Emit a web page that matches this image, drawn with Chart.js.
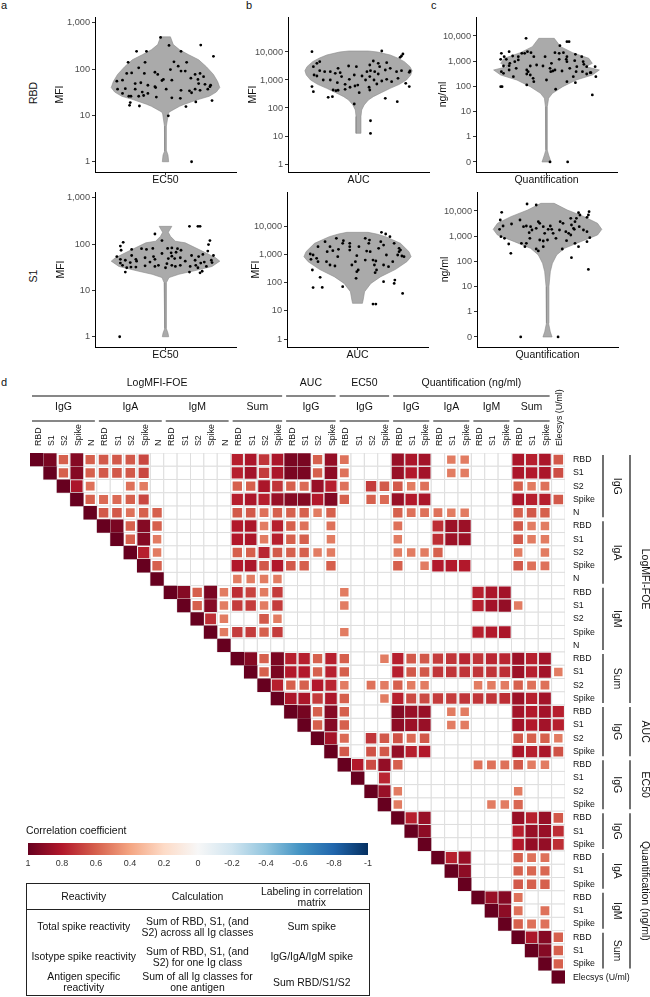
<!DOCTYPE html>
<html><head><meta charset="utf-8">
<script src="https://cdn.jsdelivr.net/npm/chart.js@4.4.1/dist/chart.umd.min.js"></script>
<style>
body{margin:0;width:650px;height:997px;position:relative;background:#fff;font-family:"Liberation Sans",Arial,sans-serif;color:#111;overflow:hidden}
canvas{position:absolute}
.t{position:absolute;white-space:nowrap;line-height:1}
.rot{position:absolute;white-space:nowrap;line-height:1;transform:translate(-50%,-50%) rotate(-90deg);font-size:10.5px}
#tbl{position:absolute;left:26px;top:883px;width:343px;height:112px;border-collapse:collapse;border:1.5px solid #222;table-layout:fixed;font-size:10.4px;line-height:11px;text-align:center}
#tbl td{padding:0;vertical-align:middle}
#tbl tr.hd td{border-bottom:1px solid #222}
</style></head><body>
<div class="t" style="left:1px;top:0px;font-size:11px">a</div>
<div class="t" style="left:246px;top:0px;font-size:11px">b</div>
<div class="t" style="left:431px;top:0px;font-size:11px">c</div>
<div class="t" style="left:1px;top:377px;font-size:11px">d</div>
<div class="rot" style="left:33px;top:93px">RBD</div>
<div class="rot" style="left:33px;top:276px">S1</div>

<canvas id="va1" width="200" height="188" style="left:40px;top:0px"></canvas>
<canvas id="vb1" width="200" height="188" style="left:233px;top:0px"></canvas>
<canvas id="vc1" width="200" height="188" style="left:421px;top:0px"></canvas>
<canvas id="va2" width="200" height="188" style="left:40px;top:175px"></canvas>
<canvas id="vb2" width="200" height="188" style="left:232px;top:175px"></canvas>
<canvas id="vc2" width="200" height="188" style="left:422px;top:175px"></canvas>

<canvas id="hm" width="650" height="637" style="left:0px;top:360px"></canvas>

<div class="t" style="left:26px;top:826px;font-size:10.4px">Correlation coefficient</div>
<canvas id="cb" width="380" height="40" style="left:0px;top:836px"></canvas>

<table id="tbl">
<colgroup><col style="width:114px"><col style="width:114px"><col style="width:115px"></colgroup>
<tr class="hd" style="height:26px"><td>Reactivity</td><td>Calculation</td><td>Labeling in correlation<br>matrix</td></tr>
<tr style="height:34px"><td>Total spike reactivity</td><td>Sum of RBD, S1, (and<br>S2) across all Ig classes</td><td>Sum spike</td></tr>
<tr style="height:26px"><td>Isotype spike reactivity</td><td>Sum of RBD, S1, (and<br>S2) for one Ig class</td><td>IgG/IgA/IgM spike</td></tr>
<tr style="height:26px"><td>Antigen specific<br>reactivity</td><td>Sum of all Ig classes for<br>one antigen</td><td>Sum RBD/S1/S2</td></tr>
</table>

<script>
// ---------------- DATA ----------------
const ticksEC50 = [1, 10, 100, 1000];
const ticksAUC = [1, 10, 100, 1000, 10000];
const ticksQuant = [0.1, 1, 10, 100, 1000, 10000];

// Panel a, RBD, EC50 (MFI)
const a1ViolinVal = [1, 1.4, 1.7, 3, 5.9, 10.7, 11.8, 15.8, 17.5, 22, 26, 32, 40, 54, 77, 113, 160, 205, 263, 340, 500];
const a1ViolinHalf = [.045, .035, .015, .01, .015, .04, .05, .2, .27, .46, .62, .72, .77, .74, .68, .58, .47, .33, .2, .11, .07];
const a1Jitter = [-0.07,0.05,0.50,0.22,-0.41,-0.27,0.68,-0.53,-0.29,0.12,0.30,0.18,0.22,0.07,-0.38,-0.55,-0.48,-0.30,-0.15,-0.11,-0.03,0.09,0.28,0.36,0.42,0.49,0.54,0.46,-0.69,-0.61,-0.43,-0.35,-0.25,-0.15,-0.05,0.47,0.56,0.64,0.63,-0.68,-0.57,-0.43,-0.33,-0.25,-0.14,0.01,0.22,0.34,0.42,0.49,0.60,-0.61,-0.52,-0.49,-0.38,-0.31,-0.13,0.09,0.21,0.37,0.66,-0.50,-0.51,-0.37,0.04,0.43,0.29,0.37];
const a1Val = [485,327,332,243,243,243,190,141,141,144,141,116,91,98,107,81,83,81,86,77,60,58,91,64,77,81,69,60,55,58,49,51,45,42,57,49,47,45,42,37,38,37,32,30,40,37,35,34,37,35,37,30,26,26,26,27,25,24,23.5,31,21,19,16.6,16,9.8,19.6,15.6,1.0];

// Panel a, S1, EC50 (MFI)
const a2ViolinVal = [1, 1.2, 1.5, 3, 8, 14.8, 19, 22.4, 26, 33, 43, 51, 71, 107, 116, 148, 181, 243];
const a2ViolinHalf = [.045, .035, .012, .01, .01, .02, .05, .19, .38, .66, .77, .71, .52, .28, .14, .07, .04, .09];
const a2Jitter = [0.34,0.46,0.49,-0.15,-0.05,0.63,-0.6,-0.64,-0.63,-0.48,-0.34,-0.27,-0.18,0.09,0.17,0.03,0.22,0.61,0.60,0.08,0.09,0.15,-0.69,-0.64,-0.57,-0.48,-0.42,-0.29,-0.17,-0.05,0.04,0.13,0.21,0.37,0.47,0.53,0.68,-0.41,-0.22,-0.15,0.02,0.28,0.42,0.55,0.65,-0.64,-0.61,-0.5,-0.29,-0.1,0.09,0.21,0.43,0.5,0.58,0.66,-0.55,-0.57,-0.49,-0.42,-0.15,0,0.14,0.35,0.46,0.52,0.34,0.49,-0.65];
const a2Val = [243,243,243,166,120,120,110,91,74,77,80,77,81,83,80,81,74,98,71,65,55,67,54,47,45,57,47,51,54,63,49,49,51,57,54,60,57,43,41,47,38,43,45,41,45,39,35,40,34,35,35,35,35,39,33,40,31,25,32,32,33,31,33,33,31,26,25,24,1.0];

// Panel b, RBD, AUC (MFI)
const b1ViolinVal = [12.5, 50, 85, 128, 193, 254, 360, 504, 700, 1000, 1500, 2150, 3000, 4520, 6000, 7810, 9970, 10860];
const b1ViolinHalf = [.035, .035, .045, .08, .14, .21, .33, .45, .58, .68, .74, .76, .73, .65, .56, .45, .27, .14];
const b1Jitter = [-0.66,0.33,0.63,0.61,0.59,-0.55,-0.59,-0.64,0.21,0.28,0.16,0.30,0.40,-0.03,-0.14,-0.29,-0.26,-0.33,-0.40,-0.48,-0.55,-0.24,-0.13,-0.06,0.05,0.12,0.17,0.23,0.28,0.38,0.45,0.54,0.61,0.73,0.72,-0.63,-0.59,-0.50,-0.40,-0.30,-0.19,-0.12,-0.01,0.10,0.16,0.22,0.26,0.33,0.40,0.47,0.56,0.67,0.72,-0.66,-0.64,-0.36,-0.32,-0.29,-0.19,-0.05,0.01,0.15,0.16,0.38,0.55,-0.37,-0.43,-0.06,0.17,0.17];
const b1Val = [10280,10860,8490,7200,6450,4520,3940,2990,4770,3940,3430,2990,4160,2990,3160,2610,1830,1730,1990,1990,2150,1320,1057,1510,1390,1990,2150,1990,1640,2280,2610,1990,2150,2100,1880,1510,1390,1000,1000,800,700,550,660,1000,1320,1000,720,920,1057,870,1150,760,580,580,383,440,416,430,464,610,353,550,440,221,168,254,240,139,35,12.4];

// Panel b, S1, AUC (MFI)
const b2ViolinVal = [18.3, 24, 47, 93, 161, 292, 546, 821, 1234, 2430, 4190, 5210, 5970];
const b2ViolinHalf = [.07, .08, .1, .19, .33, .54, .7, .76, .73, .61, .4, .27, .15];
const b2Jitter = [0.34,0.40,0.46,-0.30,-0.46,-0.20,-0.21,-0.11,-0.39,-0.27,-0.56,-0.63,-0.67,-0.66,-0.58,-0.56,-0.44,-0.43,-0.35,-0.28,-0.11,-0.11,0.02,0.11,0.17,0.16,0.18,0.30,0.33,0.37,0.52,0.59,0.61,0.59,0.63,0.66,0.57,0.41,0.50,0.44,0.37,0.26,0.22,0.24,0.27,0.25,0.11,0.13,-0.01,-0.03,-0.01,0.01,-0.02,-0.08,-0.32,-0.39,-0.53,-0.64,-0.63,-0.50,-0.21,0.37,0.53,0.52,0.64,0.22,0.26];
const b2Val = [5970,5210,4190,3660,2790,3030,2430,2430,1850,1490,1850,940,1020,661,717,546,546,1234,1340,821,1850,1410,1850,3660,3190,2430,1234,1620,2790,2120,2430,1620,1410,1234,867,821,940,940,546,363,417,577,625,417,277,223,625,1300,891,546,242,277,141,417,384,417,152,277,66,67,71,107,122,93,41,17.3,17.3];

// Panel c, RBD, Quantification (ng/ml)
const c1ViolinVal = [0.1, 0.19, 0.3, 1.37, 15.7, 34, 53, 97.5, 179, 283, 448, 607, 822, 1300, 2180, 3780, 8070];
const c1ViolinHalf = [.064, .03, .01, .008, .015, .03, .085, .23, .42, .65, .75, .56, .65, .6, .37, .2, .11];
const c1Jitter = [-0.29,0.29,0.32,0.19,-0.64,-0.53,-0.60,-0.65,-0.57,-0.48,-0.40,-0.35,-0.31,-0.22,-0.27,-0.18,-0.02,0.12,0.18,0.24,0.29,0.28,0.41,0.50,0.52,0.40,0.29,0.18,0.07,-0.05,-0.14,-0.23,-0.28,-0.40,-0.45,-0.52,-0.53,-0.61,-0.64,-0.61,-0.53,-0.43,-0.26,-0.28,-0.23,-0.19,-0.28,-0.47,0.05,0.06,0.09,0.12,0.22,0.33,0.43,0.42,0.51,0.57,0.57,0.62,0.63,0.69,0.53,0.70,0.38,0.29,0.41,0,-0.18,-0.63,-0.65,0.13,0.65,0.05,0.30];
const c1Val = [8070,5960,5960,4130,2050,2390,1510,1190,1190,1610,1510,2050,2050,2180,2390,1510,1510,2180,2050,2180,1510,1190,1870,1510,957,1050,957,1190,822,645,707,645,448,1120,957,822,665,645,385,330,448,521,385,310,283,209,114,243,521,385,408,448,408,521,607,385,385,607,310,351,351,607,752,243,243,154,141,179,154,97.5,97.5,77,46,0.1,0.1];

// Panel c, S1, Quantification (ng/ml)
const c2ViolinVal = [0.1, 0.16, 0.35, 9.9, 39, 84, 180, 330, 607, 1117, 1870, 3240, 5960, 10960, 20140];
const c2ViolinHalf = [.065, .04, .015, .02, .04, .07, .13, .24, .47, .71, .77, .71, .52, .28, .095];
const c2Jitter = [-0.29,-0.16,-0.65,-0.67,-0.39,-0.51,-0.63,-0.68,-0.66,-0.61,-0.55,-0.52,-0.37,-0.34,-0.30,-0.24,-0.26,-0.22,-0.16,-0.13,-0.11,-0.06,-0.04,0.01,0.04,0.06,0.08,0.12,0.17,0.18,0.22,0.26,0.30,0.33,0.37,0.39,0.41,0.46,0.44,0.45,0.51,0.56,0.56,0.58,0.59,0.56,0.60,-0.06,-0.11,-0.25,-0.30,-0.32,-0.16,-0.13,-0.06,0,0.21,0.27,0.34,0.39,0.44,0.33,0.38,0.34,0.58,-0.38,0.15];
const c2Val = [18970,17300,8850,4400,4400,3050,2540,1870,957,822,490,209,521,2390,2540,2390,1380,1760,2050,3780,3240,2390,1300,1870,2540,1870,1300,822,1760,3780,3240,1510,1300,1117,2050,3780,5120,6940,8590,2390,1760,1510,5610,6940,9420,607,875,645,707,822,521,385,310,259,385,707,310,665,2780,521,385,5120,1870,141,48,0.1,0.1];

// Correlation matrix d (upper triangle, row i lists columns i..39)
const colLabels = ['RBD','S1','S2','Spike','N','RBD','S1','S2','Spike','N','RBD','S1','S2','Spike','N','RBD','S1','S2','Spike','RBD','S1','S2','Spike','RBD','S1','S2','Spike','RBD','S1','Spike','RBD','S1','Spike','RBD','S1','Spike','RBD','S1','Spike','Elecsys (U/ml)'];
const rowLabels = colLabels.slice();
const groupsOuter = [['LogMFI-FOE',0,18],['AUC',19,22],['EC50',23,26],['Quantification (ng/ml)',27,38]];
const groupsInner = [['IgG',0,4],['IgA',5,9],['IgM',10,14],['Sum',15,18],['IgG',19,22],['IgG',23,26],['IgG',27,29],['IgA',30,32],['IgM',33,35],['Sum',36,38]];
const corrRows = [
[1,.95,.6,.92,.6,.62,.62,.62,.67,0, 0,0,0,0,0, .78,.82,.72,.82, .95,.95,.6,.88, .55,0,0,0, .87,.82,.84, 0,.52,.52, 0,0,0, .82,.78,.82, .62],
[1,.6,.92,.6,.62,.62,.62,.67,0, 0,0,0,0,0, .78,.84,.7,.82, .95,.95,.6,.9, .55,0,0,0, .87,.8,.84, 0,.52,.52, 0,0,0, .82,.8,.82, .65],
[1,.82,.55,0,0,.55,.52,0, 0,0,0,0,0, .6,.6,.82,.72, .6,.57,.87,.78, .55,0,.7,.62, .62,.52,.55, 0,0,0, 0,0,0, .6,.52,.55, 0],
[1,.6,.57,.57,.6,.67,0, 0,0,0,0,0, .78,.82,.78,.87, .92,.92,.8,.93, .6,0,.6,.57, .87,.8,.82, 0,0,0, 0,0,0, .82,.78,.78, .62],
[1,.62,.62,.55,.6,.6, 0,0,0,0,0, .62,.62,.55,.6, .6,.6,.52,.6, 0,0,0,0, .6,.55,.55, .55,.52,.52, 0,0,0, .6,.62,.6, 0],
[1,.95,.6,.92,.6, 0,0,0,0,0, .8,.82,.52,.78, .6,.55,0,.55, 0,0,0,0, .55,0,0, .74,.86,.86, 0,0,0, .62,.52,.52, 0],
[1,.6,.92,.52, 0,0,0,0,0, .8,.82,.52,.78, .6,.6,0,.52, 0,0,0,0, .52,0,0, .74,.86,.86, 0,0,0, .62,.52,.52, 0],
[1,.78,.52, 0,0,0,0,0, .6,.6,.76,.62, .6,.6,.52,.52, 0,0,0,0, .52,.52,.52, .6,0,0, 0,0,0, .52,0,.52, 0],
[1,.6, 0,0,0,0,0, .8,.82,.62,.8, .62,.6,0,.6, 0,0,0,0, .6,0,.52, .8,.8,.8, 0,0,0, .62,.55,.55, 0],
[1, 0,0,0,0,0, .52,.52,.52,.52, 0,0,0,0, 0,0,0,0, 0,0,0, 0,0,0, 0,0,0, 0,0,0, 0],
[1,.92,.6,.95,.52, .74,.68,.52,.7, 0,0,0,0, .52,0,0,0, 0,0,0, 0,0,0, .78,.82,.84, 0,0,0, 0],
[1,.6,.92,.52, .7,.7,.52,.7, 0,0,0,0, .52,0,0,0, 0,0,0, 0,0,0, .78,.84,.88, .52,0,0, 0],
[1,.74,.52, 0,0,.62,.52, 0,0,0,0, 0,0,0,0, 0,0,0, 0,0,0, 0,0,0, 0,0,0, 0],
[1,.52, .7,.7,.6,.7, 0,0,0,0, .52,0,0,0, 0,0,0, 0,0,0, .78,.8,.82, 0,0,0, 0],
[1, 0,0,0,0, 0,0,0,0, 0,0,0,0, 0,0,0, 0,0,0, 0,0,0, 0,0,0, 0],
[1,.92,.6,.95, .78,.78,.6,.78, .6,0,0,.52, .78,.62,.62, .7,.72,.76, .72,.76,.76, .86,.78,.84, 0],
[1,.6,.95, .8,.8,.6,.78, .6,0,0,0, .78,.62,.62, .72,.72,.72, .72,.72,.74, .86,.78,.84, .52],
[1,.78, .6,.6,.8,.76, .52,0,.55,.52, .6,.52,.52, 0,0,0, .52,.52,.52, .6,.55,.55, 0],
[1, .82,.82,.7,.82, .6,0,0,.52, .78,.66,.66, .7,.7,.72, .72,.72,.74, .86,.78,.84, 0],
[1,.96,.6,.92, .6,0,0,0, .92,.87,.87, 0,.52,.52, 0,0,0, .84,.8,.84, .78],
[1,.6,.92, .6,0,0,0, .9,.86,.87, 0,.52,.52, 0,0,0, .84,.8,.84, .78],
[1,.84, .57,0,.72,.62, .64,.57,.62, 0,0,0, 0,0,0, .62,.6,.6, .52],
[1, .62,0,.64,.62, .88,.78,.8, 0,0,0, 0,0,0, .82,.78,.82, .64],
[1,.8,.66,.88, .6,0,0, 0,0,0, .55,.55,.55, .62,.52,.52, 0],
[1,0,.76, 0,0,0, 0,0,0, 0,0,0, 0,0,0, 0],
[1,.87, .52,0,0, 0,0,0, 0,0,0, .52,0,0, 0],
[1, .52,0,0, 0,0,0, 0,.52,.52, .58,0,0, 0],
[1,.78,.87, 0,0,0, 0,0,0, .87,.78,.87, .62],
[1,.9, 0,0,0, 0,0,0, .78,.87,.87, .74],
[1, 0,0,0, 0,0,0, .8,.88,.88, .74],
[1,.78,.87, 0,0,0, .6,.55,.55, 0],
[1,.9, 0,0,0, .6,.58,.58, 0],
[1, 0,0,0, .62,.6,.6, 0],
[1,.87,.92, .55,0,0, 0],
[1,.9, .55,0,.55, 0],
[1, .6,.55,.55, 0],
[1,.82,.92,.6],
[1,.92,.6],
[1,.6],
[1]
];
const colorbarTicks = [1, 0.8, 0.6, 0.4, 0.2, 0, -0.2, -0.4, -0.6, -0.8, -1];

// ---------------- STYLE / HELPERS ----------------
const FONT = '"Liberation Sans", Arial, sans-serif';
Chart.defaults.font.family = FONT;
Chart.defaults.color = '#111';
const RDBU = ['#67001F','#B2182B','#D6604D','#F4A582','#FDDBC7','#F7F7F7','#D1E5F0','#92C5DE','#4393C3','#2166AC','#053061'];
function hex2rgb(h){return [parseInt(h.substr(1,2),16),parseInt(h.substr(3,2),16),parseInt(h.substr(5,2),16)];}
function rdbu(v){
  const t = Math.min(Math.max((1 - v) / 2, 0), 1) * 10;
  const i = Math.min(Math.floor(t), 9), f = t - i;
  const a = hex2rgb(RDBU[i]), b = hex2rgb(RDBU[i+1]);
  return 'rgb(' + a.map((c,k)=>Math.round(c + (b[k]-c)*f)).join(',') + ')';
}
function fmtNum(v){ if (v < 1) return '0'; return String(Math.round(v)).replace(/\B(?=(\d{3})+(?!\d))/g, ','); }

function makeViolin(id, d, st){
  const poly = [];
  for (let i = 0; i < d.vv.length; i++) poly.push({x: d.vh[i], y: d.vv[i]});
  for (let i = d.vv.length - 1; i >= 0; i--) poly.push({x: -d.vh[i], y: d.vv[i]});
  poly.push({x: d.vh[0], y: d.vv[0]});
  const pts = d.pv.map((v, i) => ({x: d.pj[i], y: v}));
  new Chart(document.getElementById(id), {
    type: 'scatter',
    data: {datasets: [
      {data: pts, pointRadius: 1.4, pointBackgroundColor: '#000', pointBorderWidth: 0, order: 1},
      {data: poly, showLine: true, fill: 'shape', backgroundColor: '#aaaaaa', borderColor: '#8a8a8a', borderWidth: 0.6, pointRadius: 0, tension: 0, order: 2}
    ]},
    options: {
      responsive: false, animation: false, devicePixelRatio: 1,
      layout: {padding: {top: 17, right: 4, left: 0, bottom: 0}},
      plugins: {legend: {display: false}, tooltip: {enabled: false}},
      scales: {
        x: {type: 'linear', min: -1, max: 1,
          afterBuildTicks: s => { s.ticks = [{value: 0}]; },
          afterFit: s => { s.height = 16; },
          ticks: {callback: () => '', padding: 0, autoSkip: false},
          grid: {drawOnChartArea: false, tickLength: 3, color: '#333'},
          border: {display: true, color: '#000', width: 1},
          title: {display: true, text: d.xTitle, font: {size: 10.5}, color: '#111', padding: {top: 0, bottom: 2}}},
        y: {type: 'logarithmic', min: d.min, max: d.max,
          afterBuildTicks: s => { s.ticks = d.ticks.map(v => ({value: v})); },
          afterFit: s => { s.width = 55; },
          ticks: {callback: v => fmtNum(v), font: {size: 9.2}, color: '#4d4d4d', padding: 2, autoSkip: false},
          grid: {drawOnChartArea: false, tickLength: 3, color: '#333'},
          border: {display: true, color: '#000', width: 1},
          title: {display: true, text: d.yTitle, font: {size: 10.5}, color: '#111', padding: {top: st.tp, bottom: 0}}}
      }
    }
  });
}

makeViolin('va1', {vv: a1ViolinVal, vh: a1ViolinHalf, pj: a1Jitter, pv: a1Val, min: 0.641, max: 1343, ticks: ticksEC50, xTitle: 'EC50', yTitle: 'MFI'}, {tp: 14});
makeViolin('va2', {vv: a2ViolinVal, vh: a2ViolinHalf, pj: a2Jitter, pv: a2Val, min: 0.641, max: 1343, ticks: ticksEC50, xTitle: 'EC50', yTitle: 'MFI'}, {tp: 15});
makeViolin('vb1', {vv: b1ViolinVal, vh: b1ViolinHalf, pj: b1Jitter, pv: b1Val, min: 0.518, max: 177800, ticks: ticksAUC, xTitle: 'AUC', yTitle: 'MFI'}, {tp: 14});
makeViolin('vb2', {vv: b2ViolinVal, vh: b2ViolinHalf, pj: b2Jitter, pv: b2Val, min: 0.521, max: 160000, ticks: ticksAUC, xTitle: 'AUC', yTitle: 'MFI'}, {tp: 18});
makeViolin('vc1', {vv: c1ViolinVal, vh: c1ViolinHalf, pj: c1Jitter, pv: c1Val, min: 0.040, max: 56750, ticks: ticksQuant, xTitle: 'Quantification', yTitle: 'ng/ml'}, {tp: 16});
makeViolin('vc2', {vv: c2ViolinVal, vh: c2ViolinHalf, pj: c2Jitter, pv: c2Val, min: 0.040, max: 56750, ticks: ticksQuant, xTitle: 'Quantification', yTitle: 'ng/ml'}, {tp: 17});

// ---------------- HEATMAP ----------------
const gridCells = [], corrCells = [];
corrRows.forEach((row, i) => row.forEach((v, k) => {
  const j = i + k;
  gridCells.push({x: j, y: i});
  if (v) corrCells.push({x: j, y: i, r: v});
}));
function cellPx(chart){ const s = chart.scales.x; return Math.abs(s.getPixelForValue(1) - s.getPixelForValue(0)); }

const groupPlugin = {
  id: 'groups',
  afterDraw(chart){
    const {ctx} = chart, x = chart.scales.x, y = chart.scales.y;
    ctx.save();
    ctx.fillStyle = '#111'; ctx.strokeStyle = '#111'; ctx.lineWidth = 1.2;
    ctx.font = '10.5px ' + FONT;
    ctx.textAlign = 'center'; ctx.textBaseline = 'middle';
    const drawTop = (groups, ty, ly) => groups.forEach(([lab, a, b]) => {
      const x0 = x.getPixelForValue(a - 0.5) + 2, x1 = x.getPixelForValue(b + 0.5) - 2;
      ctx.fillText(lab, (x0 + x1) / 2, ty);
      ctx.beginPath(); ctx.moveTo(x0, ly); ctx.lineTo(x1, ly); ctx.stroke();
    });
    drawTop(groupsOuter, 23, 36);
    drawTop(groupsInner, 47, 61);
    const drawRight = (groups, tx, lx) => groups.forEach(([lab, a, b]) => {
      const y0 = y.getPixelForValue(a - 0.5) + 2, y1 = y.getPixelForValue(b + 0.5) - 2;
      ctx.beginPath(); ctx.moveTo(lx, y0); ctx.lineTo(lx, y1); ctx.stroke();
      ctx.save(); ctx.translate(tx, (y0 + y1) / 2); ctx.rotate(Math.PI / 2); ctx.fillText(lab, 0, 0); ctx.restore();
    });
    drawRight(groupsInner, 617, 603);
    drawRight(groupsOuter, 645, 630);
    ctx.restore();
  }
};

new Chart(document.getElementById('hm'), {
  type: 'scatter',
  data: {datasets: [
    {data: corrCells, pointStyle: 'rect', order: 1,
     pointRadius: c => cellPx(c.chart) * Math.pow(Math.abs(c.raw.r), 0.7) / Math.SQRT2,
     pointBackgroundColor: c => rdbu(c.raw.r), pointBorderWidth: 0},
    {data: gridCells, pointStyle: 'rect', order: 2,
     pointRadius: c => cellPx(c.chart) / Math.SQRT2,
     pointBackgroundColor: '#ffffff', pointBorderColor: '#dedede', pointBorderWidth: 1}
  ]},
  options: {
    responsive: false, animation: false, devicePixelRatio: 1,
    layout: {padding: {left: 30, bottom: 9, top: 0, right: 0}},
    plugins: {legend: {display: false}, tooltip: {enabled: false}},
    scales: {
      x: {type: 'linear', position: 'top', min: -0.5, max: 39.5,
        afterBuildTicks: s => { s.ticks = colLabels.map((_, i) => ({value: i})); },
        afterFit: s => { s.height = 93; },
        ticks: {autoSkip: false, maxRotation: 90, minRotation: 90, padding: 7, labelOffset: 12, font: {size: 8.8}, color: '#111', callback: v => colLabels[v]},
        grid: {display: false, drawTicks: false}, border: {display: false}},
      y: {type: 'linear', position: 'right', reverse: true, min: -0.5, max: 39.5,
        afterBuildTicks: s => { s.ticks = rowLabels.map((_, i) => ({value: i})); },
        afterFit: s => { s.width = 85; },
        ticks: {autoSkip: false, padding: 8, font: {size: 8.8}, color: '#111', callback: v => rowLabels[v]},
        grid: {display: false, drawTicks: false}, border: {display: false}}
    }
  },
  plugins: [groupPlugin]
});

// ---------------- COLOR BAR ----------------
new Chart(document.getElementById('cb'), {
  type: 'bar',
  data: {labels: [''], datasets: [{
    data: [[-1, 1]], borderWidth: 0, barPercentage: 1, categoryPercentage: 1,
    backgroundColor: c => {
      const a = c.chart.chartArea; if (!a) return '#ccc';
      const g = c.chart.ctx.createLinearGradient(a.left, 0, a.right, 0);
      RDBU.forEach((col, i) => g.addColorStop(i / 10, col));
      return g;
    }
  }]},
  options: {
    indexAxis: 'y', responsive: false, animation: false, devicePixelRatio: 1,
    layout: {padding: {left: 28, right: 12, top: 7, bottom: 0}},
    plugins: {legend: {display: false}, tooltip: {enabled: false}},
    scales: {
      x: {type: 'linear', min: -1, max: 1, reverse: true,
        afterBuildTicks: s => { s.ticks = colorbarTicks.map(v => ({value: v})); },
        afterFit: s => { s.height = 21; },
        ticks: {autoSkip: false, maxRotation: 0, padding: 3, font: {size: 9}, color: '#333', callback: v => String(Math.round(v * 10) / 10)},
        grid: {display: false, drawTicks: false}, border: {display: false}},
      y: {display: false}
    }
  }
});
</script>
</body></html>
